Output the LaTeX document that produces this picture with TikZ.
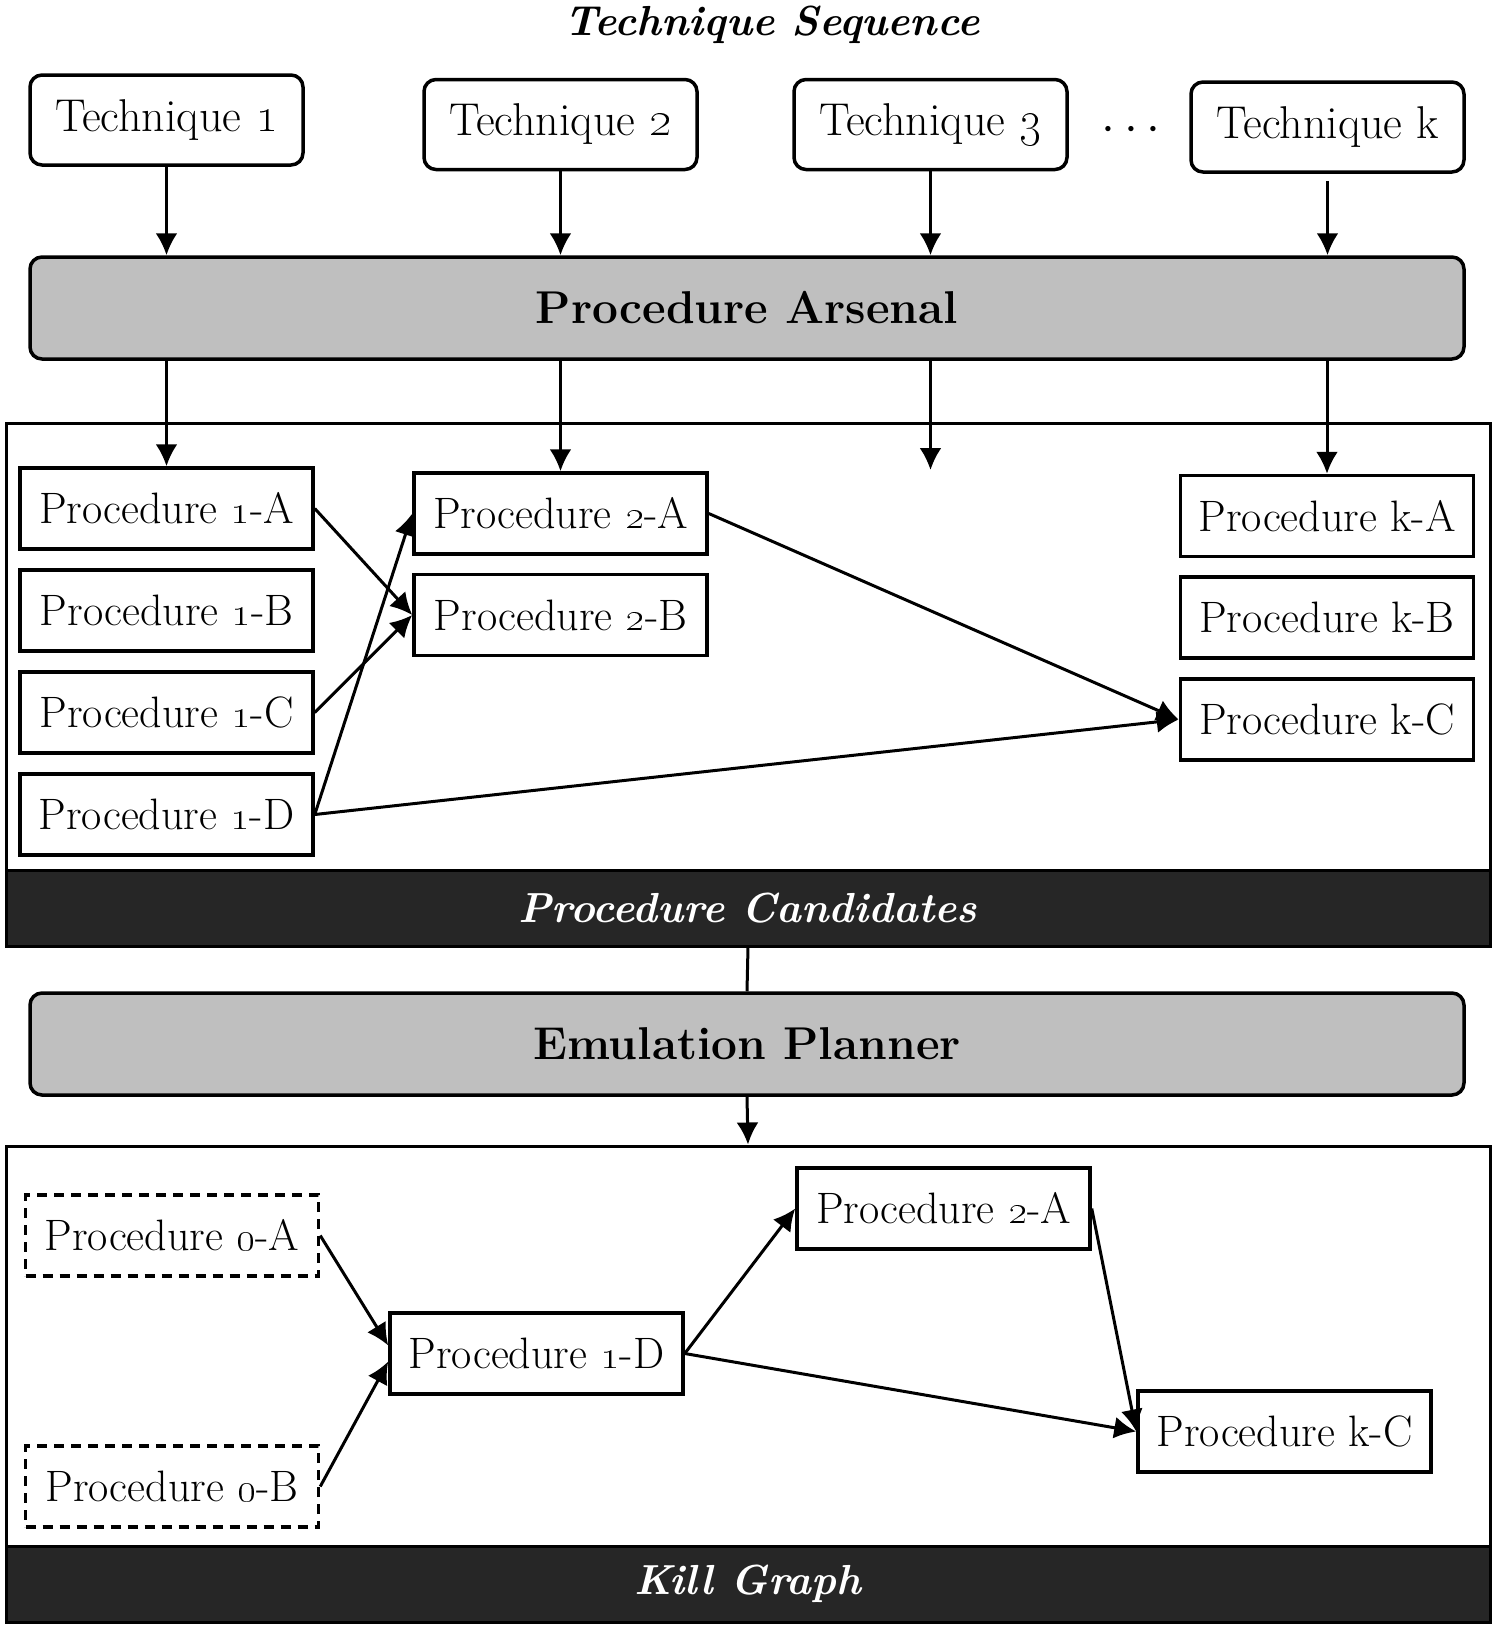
\documentclass[tikz,border=0pt]{standalone}
\usetikzlibrary{arrows.meta}
\definecolor{arsenalgray}{HTML}{BFBFBF}
\definecolor{banddark}{HTML}{262626}
\tikzset{
  basefont/.style={font=\fontsize{22}{26}\selectfont},
  techfont/.style={font=\fontsize{23}{27}\selectfont},
  techbox/.style={draw, line width=1.75pt, rounded corners=6pt, fill=white, minimum width=136.5pt, minimum height=45pt, inner sep=0pt, techfont},
  procbox/.style={draw, line width=1.75pt, fill=white, minimum width=146.5pt, minimum height=40.5pt, inner sep=0pt, basefont},
  dashbox/.style={procbox, dash pattern=on 5pt off 3.5pt},
  bigbar/.style={draw, line width=1.75pt, rounded corners=6pt, fill=arsenalgray, minimum width=717pt, minimum height=51pt, inner sep=0pt, font=\fontsize{23}{27}\selectfont\bfseries},
  container/.style={draw, line width=1.5pt, fill=white, minimum width=742pt, inner sep=0pt},
  band/.style={draw, line width=1.5pt, fill=banddark, text=white, minimum width=742pt, minimum height=38pt, inner sep=0pt, font=\fontsize{21}{25}\selectfont\bfseries\itshape},
  conn/.style={line width=1.5pt, -{Latex[length=11pt,width=11pt]}},
  plainconn/.style={line width=1.5pt},
  dotsfont/.style={font=\fontsize{27}{30}\selectfont},
}
\begin{document}
\begin{tikzpicture}[x=0.5pt,y=-0.5pt]
\useasboundingbox (0,0) rectangle (1494,1630);

% title
\node[font=\fontsize{21}{25}\selectfont\bfseries\itshape] (title) at (772,25) {Technique Sequence};

% techniques
\node[techbox] (tech1) at (166.5,120) {Technique \oldstylenums{1}};
\node[techbox] (tech2) at (560.5,124.5) {Technique \oldstylenums{2}};
\node[techbox] (tech3) at (930.5,124.5) {Technique \oldstylenums{3}};
\node[dotsfont] (dots) at (1131,130) {$\cdots$};
\node[techbox] (techk) at (1327.5,127) {Technique k};

% arsenal
\node[bigbar] (arsenal) at (747,308) {Procedure Arsenal};

% candidates container
\node[container, minimum height=261.5pt] (cand) at (748,684.5) {};
\node[band] (candband) at (748,908) {Procedure Candidates};

\node[procbox] (p1A) at (166.5,508.5) {Procedure \oldstylenums{1}-A};
\node[procbox] (p1B) at (166.5,610.5) {Procedure \oldstylenums{1}-B};
\node[procbox] (p1C) at (166.5,712.5) {Procedure \oldstylenums{1}-C};
\node[procbox] (p1D) at (166.5,814.5) {Procedure \oldstylenums{1}-D};
\node[procbox] (p2A) at (560.5,513.5) {Procedure \oldstylenums{2}-A};
\node[procbox] (p2B) at (560.5,615) {Procedure \oldstylenums{2}-B};
\node[procbox] (pkA) at (1327,516) {Procedure k-A};
\node[procbox] (pkB) at (1327,617.5) {Procedure k-B};
\node[procbox] (pkC) at (1327,719.5) {Procedure k-C};
\coordinate (p3end) at (930.5,470);

% emulation planner
\node[bigbar] (emul) at (747,1044) {Emulation Planner};

% kill graph container
\node[container, minimum height=238pt] (kill) at (748,1384) {};
\node[band] (killband) at (748,1584) {Kill Graph};

\node[dashbox] (k0A) at (172,1235.5) {Procedure \oldstylenums{0}-A};
\node[dashbox] (k0B) at (172,1486.5) {Procedure \oldstylenums{0}-B};
\node[procbox] (k1D) at (536.5,1353.5) {Procedure \oldstylenums{1}-D};
\node[procbox] (k2A) at (943.5,1208.5) {Procedure \oldstylenums{2}-A};
\node[procbox] (kkC) at (1284.5,1431.5) {Procedure k-C};

% technique -> arsenal
\draw[conn] (tech1.south) -- (tech1 |- arsenal.north);
\draw[conn] (tech2.south) -- (tech2 |- arsenal.north);
\draw[conn] (tech3.south) -- (tech3 |- arsenal.north);
\draw[conn] ([yshift=-3.5pt]techk.south) -- (techk |- arsenal.north);

% arsenal -> candidates
\draw[conn] (p1A |- arsenal.south) -- (p1A.north);
\draw[conn] (p2A |- arsenal.south) -- (p2A.north);
\draw[conn] (p3end |- arsenal.south) -- (p3end);
\draw[conn] (pkA |- arsenal.south) -- (pkA.north);

% candidate edges
\draw[conn] (p1A.east) -- (p2B.west);
\draw[conn] (p1C.east) -- (p2B.west);
\draw[conn] (p1D.east) -- (p2A.west);
\draw[conn] (p2A.east) -- (pkC.west);
\draw[conn] (p1D.east) -- (pkC.west);

% candidates -> planner -> kill graph
\draw[plainconn] (candband.south) -- (emul.north);
\draw[conn] (emul.south) -- (kill.north);

% kill graph edges
\draw[conn] (k0A.east) -- ([yshift=4pt]k1D.west);
\draw[conn] (k0B.east) -- ([yshift=-4pt]k1D.west);
\draw[conn] (k1D.east) -- (k2A.west);
\draw[conn] (k1D.east) -- (kkC.west);
\draw[conn] (k2A.east) -- (kkC.west);
\end{tikzpicture}
\end{document}
